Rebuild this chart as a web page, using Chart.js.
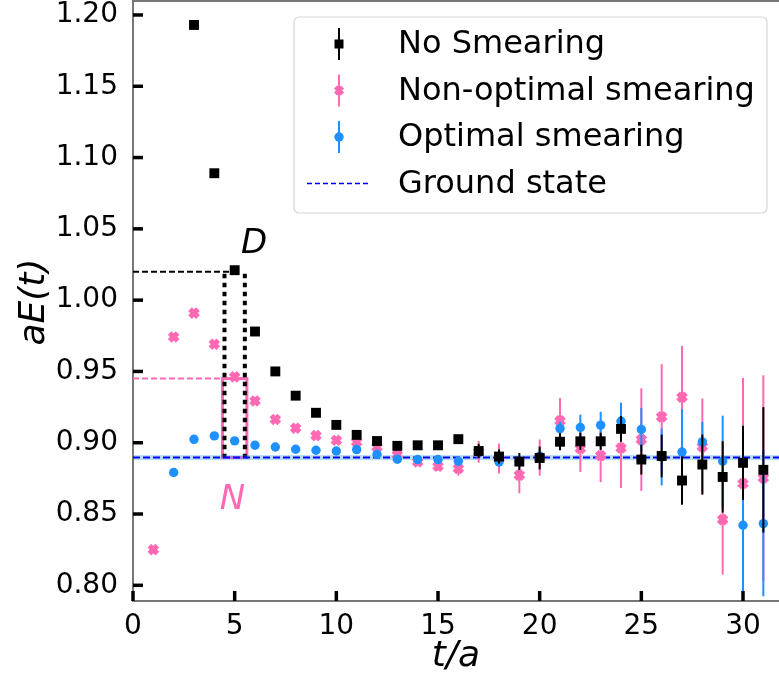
<!DOCTYPE html>
<html>
<head>
<meta charset="utf-8">
<script src="https://cdn.jsdelivr.net/npm/chart.js@4.4.1/dist/chart.umd.min.js"></script>
<style>
  html, body { margin: 0; padding: 0; background: #fff; }
  canvas { display: block; }
</style>
</head>
<body>
<canvas id="chart" width="779" height="687"></canvas>
<script>
// tick values
const xTicks = [0, 5, 10, 15, 20, 25, 30];
const yTicks = [0.80, 0.85, 0.90, 0.95, 1.00, 1.05, 1.10, 1.15, 1.20];

// No Smearing
const noSmearT = [3, 4, 5, 6, 7, 8, 9, 10, 11, 12, 13, 14, 15, 16, 17, 18, 19, 20, 21, 22, 23, 24, 25, 26, 27, 28, 29, 30, 31];
const noSmearE = [1.193, 1.089, 1.021, 0.978, 0.950, 0.933, 0.921, 0.9125, 0.9055, 0.9012, 0.8978, 0.8982, 0.8982, 0.9025, 0.8942,
  0.8903, 0.8868, 0.8893, 0.9007, 0.901, 0.901, 0.9097, 0.8882, 0.8907, 0.8735, 0.8847, 0.876, 0.8859, 0.881];
const noSmearErr = [0.001, 0.001, 0.001, 0.001, 0.001, 0.001, 0.001, 0.001, 0.001, 0.001, 0.0015, 0.0015, 0.0015, 0.003, 0.005,
  0.005, 0.006, 0.008, 0.006, 0.006, 0.006, 0.009, 0.0105, 0.015, 0.017, 0.021, 0.025, 0.026, 0.044];

// Non-optimal smearing
const nonOptT = [1, 2, 3, 4, 5, 6, 7, 8, 9, 10, 11, 12, 13, 14, 15, 16, 17, 18, 19, 20, 21, 22, 23, 24, 25, 26, 27, 28, 29, 30, 31];
const nonOptE = [0.825, 0.9742, 0.9909, 0.9691, 0.9462, 0.9293, 0.9163, 0.9102, 0.905, 0.9017, 0.9005, 0.897, 0.8915, 0.8865, 0.8835,
  0.8819, 0.8936, 0.8889, 0.8772, 0.8896, 0.9153, 0.8959, 0.8909, 0.8963, 0.9022, 0.9181, 0.9319, 0.8973, 0.8461, 0.8714, 0.8753];
const nonOptErr = [0.001, 0.001, 0.001, 0.001, 0.001, 0.001, 0.001, 0.001, 0.001, 0.001, 0.0015, 0.0015, 0.002, 0.002, 0.003,
  0.005, 0.0076, 0.0105, 0.0126, 0.0127, 0.016, 0.0164, 0.0185, 0.028, 0.036, 0.037, 0.036, 0.0337, 0.0386, 0.074, 0.072];

// Optimal smearing
const optT = [2, 3, 4, 5, 6, 7, 8, 9, 10, 11, 12, 13, 14, 15, 16, 17, 18, 19, 20, 21, 22, 23, 24, 25, 26, 27, 28, 29, 30, 31];
const optE = [0.8791, 0.9024, 0.9048, 0.9013, 0.8982, 0.897, 0.8954, 0.8947, 0.8942, 0.8952, 0.8919, 0.8884, 0.8882, 0.8882, 0.887,
  0.893, 0.8865, 0.8868, 0.8905, 0.9099, 0.9107, 0.9123, 0.9151, 0.9093, 0.890, 0.8935, 0.9006, 0.887, 0.8421, 0.8433];
const optErr = [0.001, 0.001, 0.001, 0.001, 0.001, 0.001, 0.001, 0.001, 0.001, 0.001, 0.001, 0.0015, 0.0015, 0.0015, 0.0015,
  0.003, 0.003, 0.004, 0.004, 0.005, 0.009, 0.0094, 0.013, 0.015, 0.02, 0.03, 0.014, 0.032, 0.06, 0.051];

// ground state and its band
const groundE = 0.8896;
const groundErr = 0.0018;

// annotation levels (D = dashed/dotted black, N = pink box)
const dLevel = 1.02;
const nLevel = 0.945;
const dDashEnd = 5;
const nDashEnd = 4.4;
const nBoxT = [4.4, 5.6];
const dDotT = [4.5, 5.5];
const dLabelAt = [5.96, 1.039];
const nLabelAt = [4.89, 0.860];

const xMin = 0, xMax = 31.77;
const yMin = 0.789, yMax = 1.2105;

const FONT = '"DejaVu Sans", sans-serif';
const BLACK = '#000000';
const PINK = '#ff69b4';
const BLUE = '#1e90ff';

function pts(ts, vs) {
  return ts.map((t, i) => ({ x: t, y: vs[i] }));
}

const errorBars = {
  id: 'errorBars',
  beforeDatasetDraw(chart, args) {
    const ds = chart.data.datasets[args.index];
    if (!ds.errors) return;
    const ctx = chart.ctx, xs = chart.scales.x, ys = chart.scales.y, a = chart.chartArea;
    ctx.save();
    ctx.beginPath();
    ctx.rect(a.left, a.top, a.right - a.left, a.bottom - a.top);
    ctx.clip();
    ctx.strokeStyle = ds.borderColor;
    ctx.lineWidth = 2;
    ds.data.forEach((p, i) => {
      const px = xs.getPixelForValue(p.x);
      ctx.beginPath();
      ctx.moveTo(px, ys.getPixelForValue(p.y - ds.errors[i]));
      ctx.lineTo(px, ys.getPixelForValue(p.y + ds.errors[i]));
      ctx.stroke();
    });
    ctx.restore();
  }
};

const annotations = {
  id: 'annotations',
  beforeDatasetsDraw(chart) {
    const ctx = chart.ctx, xs = chart.scales.x, ys = chart.scales.y;
    const X = v => xs.getPixelForValue(v), Y = v => ys.getPixelForValue(v);
    ctx.save();
    // black dashed level
    ctx.setLineDash([6, 3]);
    ctx.lineWidth = 2;
    ctx.strokeStyle = BLACK;
    ctx.beginPath();
    ctx.moveTo(X(0), Y(dLevel));
    ctx.lineTo(X(dDashEnd), Y(dLevel));
    ctx.stroke();
    // pink dashed level
    ctx.strokeStyle = PINK;
    ctx.beginPath();
    ctx.moveTo(X(0), Y(nLevel));
    ctx.lineTo(X(nDashEnd), Y(nLevel));
    ctx.stroke();
    // pink box
    ctx.setLineDash([]);
    ctx.lineWidth = 3;
    ctx.strokeRect(X(nBoxT[0]), Y(nLevel), X(nBoxT[1]) - X(nBoxT[0]), Y(groundE) - Y(nLevel));
    // black dotted sides
    ctx.setLineDash([4.5, 4.5]);
    ctx.lineWidth = 4;
    ctx.strokeStyle = BLACK;
    dDotT.forEach(t => {
      ctx.beginPath();
      ctx.moveTo(X(t), Y(dLevel) + 2);
      ctx.lineTo(X(t), Y(groundE));
      ctx.stroke();
    });
    ctx.restore();
  },
  afterDatasetsDraw(chart) {
    const ctx = chart.ctx, xs = chart.scales.x, ys = chart.scales.y;
    ctx.save();
    ctx.font = 'italic 34px ' + FONT;
    ctx.textAlign = 'center';
    ctx.textBaseline = 'middle';
    ctx.fillStyle = BLACK;
    ctx.fillText('D', xs.getPixelForValue(dLabelAt[0]), ys.getPixelForValue(dLabelAt[1]));
    ctx.fillStyle = PINK;
    ctx.fillText('N', xs.getPixelForValue(nLabelAt[0]), ys.getPixelForValue(nLabelAt[1]));
    ctx.restore();
  }
};

function drawMarker(ctx, kind, x, y, color) {
  ctx.save();
  ctx.fillStyle = color;
  ctx.strokeStyle = color;
  if (kind === 'rect') {
    ctx.fillRect(x - 4.5, y - 4.5, 9, 9);
  } else if (kind === 'cross') {
    ctx.lineWidth = 4.5;
    ctx.beginPath();
    ctx.moveTo(x - 3.5, y - 3.5); ctx.lineTo(x + 3.5, y + 3.5);
    ctx.moveTo(x + 3.5, y - 3.5); ctx.lineTo(x - 3.5, y + 3.5);
    ctx.stroke();
  } else {
    ctx.beginPath();
    ctx.arc(x, y, 4.7, 0, Math.PI * 2);
    ctx.fill();
  }
  ctx.restore();
}

const frame = {
  id: 'frame',
  afterDraw(chart) {
    const ctx = chart.ctx, a = chart.chartArea, xs = chart.scales.x, ys = chart.scales.y;
    ctx.save();
    // top spine
    ctx.strokeStyle = '#777';
    ctx.lineWidth = 2;
    ctx.beginPath();
    ctx.moveTo(a.left, a.top + 1);
    ctx.lineTo(a.right, a.top + 1);
    ctx.stroke();
    // inward ticks
    ctx.strokeStyle = BLACK;
    ctx.lineWidth = 3.5;
    xTicks.forEach(v => {
      const px = xs.getPixelForValue(v);
      ctx.beginPath();
      ctx.moveTo(px, a.bottom);
      ctx.lineTo(px, a.bottom - 10);
      ctx.stroke();
    });
    yTicks.forEach(v => {
      const py = ys.getPixelForValue(v);
      ctx.beginPath();
      ctx.moveTo(a.left, py);
      ctx.lineTo(a.left + 10, py);
      ctx.stroke();
    });
    // axis titles
    ctx.fillStyle = BLACK;
    ctx.font = 'italic 36px ' + FONT;
    ctx.textAlign = 'center';
    ctx.textBaseline = 'middle';
    ctx.fillText('t/a', 456, 657);
    ctx.translate(35, 302);
    ctx.rotate(-Math.PI / 2);
    ctx.fillText('aE(t)', 0, 0);
    ctx.restore();

    // legend
    ctx.save();
    const bx = 294, by = 17, bw = 473, bh = 196, r = 5;
    ctx.beginPath();
    ctx.moveTo(bx + r, by);
    ctx.arcTo(bx + bw, by, bx + bw, by + bh, r);
    ctx.arcTo(bx + bw, by + bh, bx, by + bh, r);
    ctx.arcTo(bx, by + bh, bx, by, r);
    ctx.arcTo(bx, by, bx + bw, by, r);
    ctx.closePath();
    ctx.fillStyle = 'rgba(255,255,255,0.8)';
    ctx.fill();
    ctx.strokeStyle = '#d6d6d6';
    ctx.lineWidth = 1.2;
    ctx.stroke();
    const rows = [
      { label: 'No Smearing', color: BLACK, kind: 'rect' },
      { label: 'Non-optimal smearing', color: PINK, kind: 'cross' },
      { label: 'Optimal smearing', color: BLUE, kind: 'circle' },
      { label: 'Ground state', color: '#0000ff', kind: 'dash' }
    ];
    ctx.font = '32px ' + FONT;
    ctx.textBaseline = 'middle';
    ctx.textAlign = 'left';
    rows.forEach((row, i) => {
      const cy = 44 + i * 46.5;
      const mx = 339;
      if (row.kind === 'dash') {
        ctx.strokeStyle = row.color;
        ctx.lineWidth = 1.5;
        ctx.setLineDash([5, 3]);
        ctx.beginPath();
        ctx.moveTo(307, cy);
        ctx.lineTo(371, cy);
        ctx.stroke();
        ctx.setLineDash([]);
      } else {
        ctx.strokeStyle = row.color;
        ctx.lineWidth = 2;
        ctx.beginPath();
        ctx.moveTo(mx, cy - 16);
        ctx.lineTo(mx, cy + 16);
        ctx.stroke();
        drawMarker(ctx, row.kind, mx, cy, row.color);
      }
      ctx.fillStyle = BLACK;
      ctx.fillText(row.label, 398, cy + 1);
    });
    ctx.restore();
  }
};

const chart = new Chart(document.getElementById('chart'), {
  type: 'scatter',
  data: {
    datasets: [
      {
        label: 'No Smearing',
        data: pts(noSmearT, noSmearE),
        errors: noSmearErr,
        borderColor: BLACK,
        backgroundColor: BLACK,
        pointStyle: 'rect',
        pointRadius: 7,
        borderWidth: 0,
        order: 1
      },
      {
        label: 'Non-optimal smearing',
        data: pts(nonOptT, nonOptE),
        errors: nonOptErr,
        borderColor: PINK,
        backgroundColor: PINK,
        pointStyle: 'crossRot',
        pointRadius: 5.6,
        borderWidth: 5.2,
        order: 3
      },
      {
        label: 'Optimal smearing',
        data: pts(optT, optE),
        errors: optErr,
        borderColor: BLUE,
        backgroundColor: BLUE,
        pointStyle: 'circle',
        pointRadius: 4.7,
        borderWidth: 0,
        order: 2
      },
      {
        type: 'line',
        label: 'band upper',
        data: [{ x: xMin, y: groundE + groundErr }, { x: xMax, y: groundE + groundErr }],
        borderWidth: 0,
        pointRadius: 0,
        fill: '+1',
        backgroundColor: 'rgba(30,144,255,0.3)',
        order: 10
      },
      {
        type: 'line',
        label: 'band lower',
        data: [{ x: xMin, y: groundE - groundErr }, { x: xMax, y: groundE - groundErr }],
        borderWidth: 0,
        pointRadius: 0,
        fill: false,
        order: 10
      },
      {
        type: 'line',
        label: 'Ground state',
        data: [{ x: xMin, y: groundE }, { x: xMax, y: groundE }],
        borderColor: '#0000ff',
        borderWidth: 2,
        borderDash: [7, 3],
        pointRadius: 0,
        fill: false,
        order: 9
      }
    ]
  },
  options: {
    responsive: false,
    animation: false,
    devicePixelRatio: 1,
    layout: { padding: 0, autoPadding: false },
    plugins: {
      legend: { display: false },
      tooltip: { enabled: false }
    },
    scales: {
      x: {
        type: 'linear',
        min: xMin,
        max: xMax,
        afterBuildTicks: s => { s.ticks = xTicks.map(v => ({ value: v })); },
        afterFit: s => { s.height = 86; s.paddingLeft = 0; s.paddingRight = 0; },
        grid: { display: false, drawTicks: false },
        border: { display: true, color: '#777', width: 2 },
        ticks: {
          autoSkip: false,
          maxRotation: 0,
          padding: 9,
          color: BLACK,
          font: { family: FONT, size: 28 }
        }
      },
      y: {
        type: 'linear',
        min: yMin,
        max: yMax,
        afterBuildTicks: s => { s.ticks = yTicks.map(v => ({ value: v })); },
        afterFit: s => { s.width = 133; s.paddingTop = 0; s.paddingBottom = 0; },
        grid: { display: false, drawTicks: false },
        border: { display: true, color: '#777', width: 2 },
        ticks: {
          autoSkip: false,
          padding: 15,
          color: BLACK,
          font: { family: FONT, size: 28 },
          callback: v => v.toFixed(2)
        }
      }
    }
  },
  plugins: [errorBars, annotations, frame]
});
</script>
</body>
</html>
